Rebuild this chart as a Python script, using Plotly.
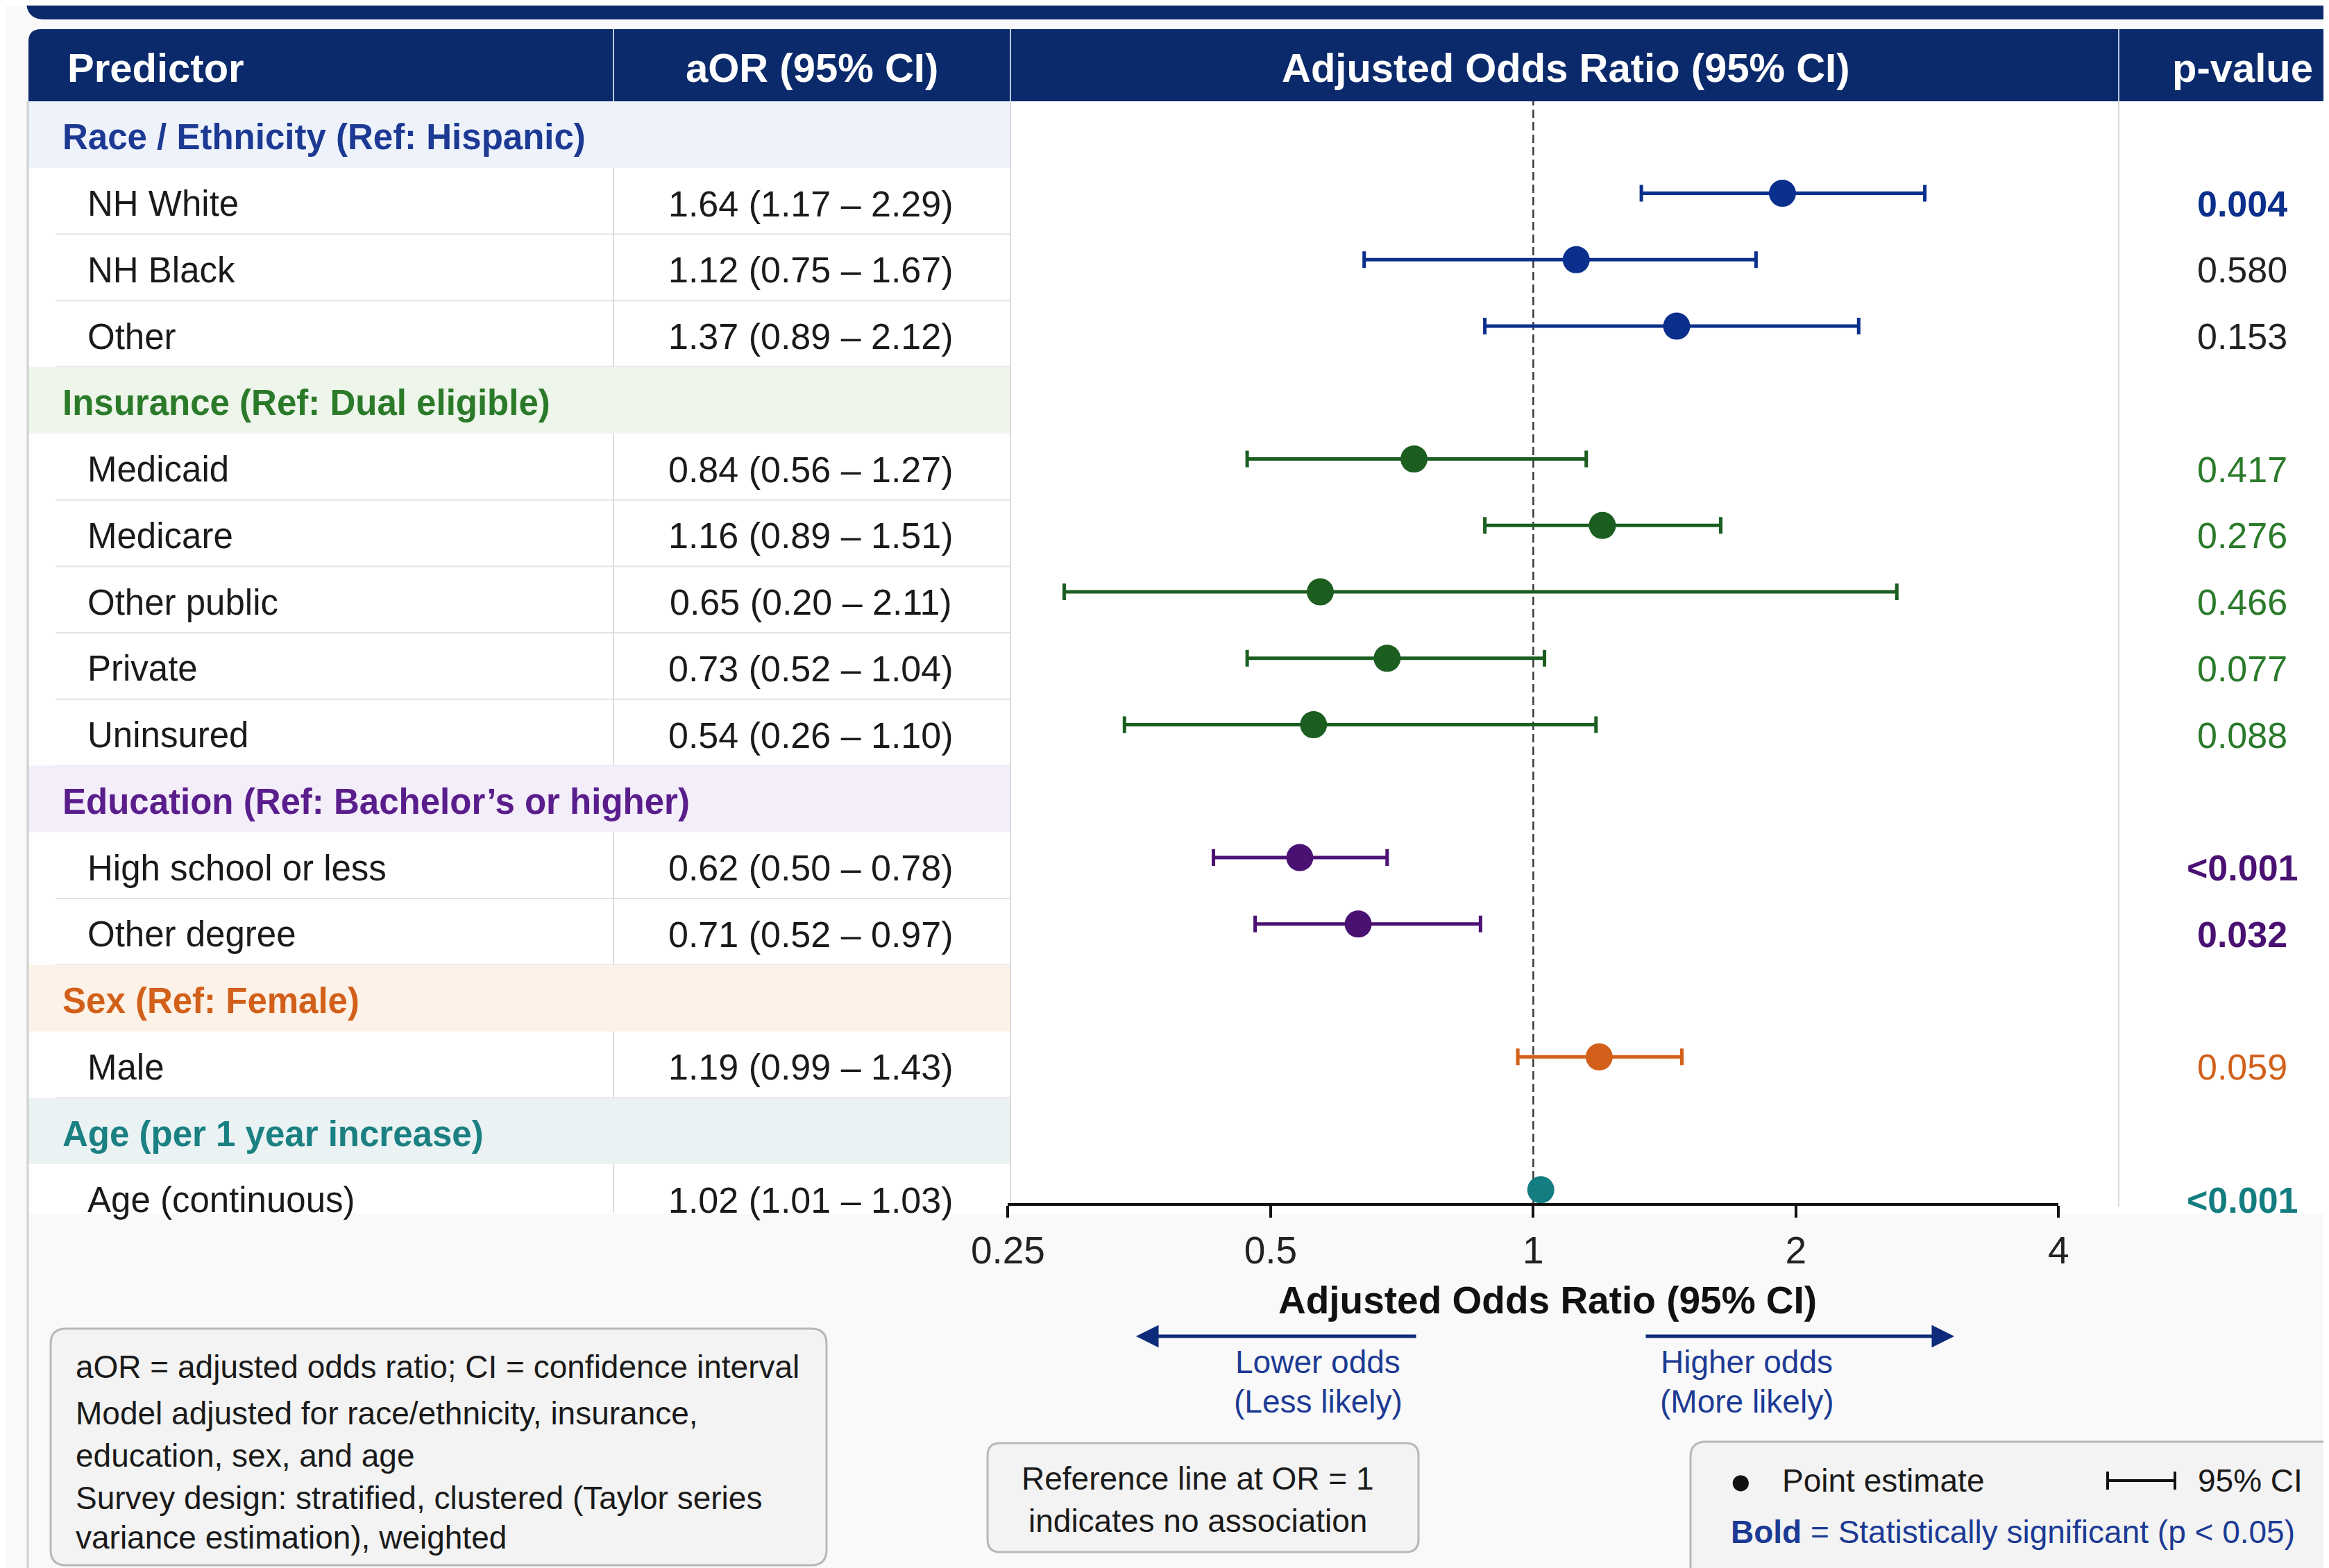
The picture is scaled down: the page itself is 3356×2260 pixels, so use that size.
import math
import plotly.graph_objects as go

# ---------------- data ----------------
group_names = ["Race / Ethnicity (Ref: Hispanic)", "Insurance (Ref: Dual eligible)",
               "Education (Ref: Bachelor’s or higher)", "Sex (Ref: Female)",
               "Age (per 1 year increase)"]

race_labels = ["NH White", "NH Black", "Other"]
insurance_labels = ["Medicaid", "Medicare", "Other public", "Private", "Uninsured"]
education_labels = ["High school or less", "Other degree"]
sex_labels = ["Male"]
age_labels = ["Age (continuous)"]

race_aor_text = ["1.64 (1.17 – 2.29)", "1.12 (0.75 – 1.67)", "1.37 (0.89 – 2.12)"]
insurance_aor_text = ["0.84 (0.56 – 1.27)", "1.16 (0.89 – 1.51)", "0.65 (0.20 – 2.11)",
                      "0.73 (0.52 – 1.04)", "0.54 (0.26 – 1.10)"]
education_aor_text = ["0.62 (0.50 – 0.78)", "0.71 (0.52 – 0.97)"]
sex_aor_text = ["1.19 (0.99 – 1.43)"]
age_aor_text = ["1.02 (1.01 – 1.03)"]

race_p = ["0.004", "0.580", "0.153"]
insurance_p = ["0.417", "0.276", "0.466", "0.077", "0.088"]
education_p = ["<0.001", "0.032"]
sex_p = ["0.059"]
age_p = ["<0.001"]

race_sig = [True, False, False]
insurance_sig = [False, False, False, False, False]
education_sig = [True, True]
sex_sig = [False]
age_sig = [True]

# point estimates and CI limits as drawn in the forest panel
race_or = [1.93, 1.12, 1.46]
race_lo = [1.33, 0.64, 0.88]
race_hi = [2.81, 1.80, 2.36]
insurance_or = [0.73, 1.20, 0.57, 0.68, 0.56]
insurance_lo = [0.47, 0.88, 0.29, 0.47, 0.34]
insurance_hi = [1.15, 1.64, 2.61, 1.03, 1.18]
education_or = [0.54, 0.63]
education_lo = [0.43, 0.48]
education_hi = [0.68, 0.87]
sex_or = [1.19]
sex_lo = [0.96]
sex_hi = [1.48]
age_or = [1.02]
age_lo = [1.01]
age_hi = [1.03]

tick_vals = [0.25, 0.5, 1, 2, 4]
tick_text = ["0.25", "0.5", "1", "2", "4"]

# ---------------- styling ----------------
W, H = 3356, 2260
OFF = 8  # page body margin offset
FONT = "Liberation Sans"
NAVY = "#0a2a6b"

group_text_col = ["#1c3a94", "#2a7a2a", "#5a1d8c", "#d2601a", "#1a8082"]
group_mark_col = ["#0b2f8c", "#1b5e20", "#4a1173", "#d2601a", "#137d80"]
group_bg = ["#eef2fb", "#eef5ea", "#f3eef9", "#fdf2e7", "#eaf2f3"]

groups = [
    (race_labels, race_aor_text, race_p, race_sig, race_or, race_lo, race_hi),
    (insurance_labels, insurance_aor_text, insurance_p, insurance_sig, insurance_or, insurance_lo, insurance_hi),
    (education_labels, education_aor_text, education_p, education_sig, education_or, education_lo, education_hi),
    (sex_labels, sex_aor_text, sex_p, sex_sig, sex_or, sex_lo, sex_hi),
    (age_labels, age_aor_text, age_p, age_sig, age_or, age_lo, age_hi),
]

TOP = 146
ROW_H = 95.75
MARK_SHIFT = 11


def X(p):
    return (p - OFF) / W


def Y(p):
    return 1 - (p - OFF) / H


def rrect_path(x0, y0, x1, y1, r, corners=(1, 1, 1, 1)):
    rx, ry = r / W, r / H
    L, R = X(x0), X(x1)
    T, B = Y(y0), Y(y1)
    tl, tr, br, bl = corners
    p = f"M {L + rx * tl},{T} L {R - rx * tr},{T} "
    if tr:
        p += f"Q {R},{T} {R},{T - ry} "
    p += f"L {R},{B + ry * br} "
    if br:
        p += f"Q {R},{B} {R - rx},{B} "
    p += f"L {L + rx * bl},{B} "
    if bl:
        p += f"Q {L},{B} {L},{B + ry} "
    p += f"L {L},{T - ry * tl} "
    if tl:
        p += f"Q {L},{T} {L + rx},{T} "
    return p + "Z"


shapes = []
annots = []


def rect(x0, y0, x1, y1, fill, line=None, lw=0, layer="below"):
    shapes.append(dict(type="rect", xref="paper", yref="paper", x0=X(x0), x1=X(x1),
                       y0=Y(y1), y1=Y(y0), fillcolor=fill,
                       line=dict(color=line or fill, width=lw), layer=layer))


def hline(x0, x1, y, color, width, layer="below"):
    shapes.append(dict(type="line", xref="paper", yref="paper", x0=X(x0), x1=X(x1),
                       y0=Y(y), y1=Y(y), line=dict(color=color, width=width), layer=layer))


def vline(x, y0, y1, color, width, layer="below"):
    shapes.append(dict(type="line", xref="paper", yref="paper", x0=X(x), x1=X(x),
                       y0=Y(y0), y1=Y(y1), line=dict(color=color, width=width), layer=layer))


def text(x, y, s, size, color="#1a1a1a", anchor="left", bold=False):
    if bold:
        s = f"<b>{s}</b>"
    annots.append(dict(xref="paper", yref="paper", x=X(x), y=Y(y), text=s, showarrow=False,
                       xanchor=anchor, yanchor="middle",
                       font=dict(family=FONT, size=size, color=color)))


def box(x0, y0, x1, y1, r):
    shapes.append(dict(type="path", xref="paper", yref="paper", path=rrect_path(x0, y0, x1, y1, r),
                       fillcolor="#f3f3f3", line=dict(color="#b8b8b8", width=3), layer="below"))


# title bar (cut off at top) and header bar
shapes.append(dict(type="path", xref="paper", yref="paper", path=rrect_path(38, -20, 3370, 28, 26, (0, 0, 0, 1)),
                   fillcolor=NAVY, line=dict(width=0), layer="below"))
rect(41, 146, 3370, 1750, "#ffffff")
shapes.append(dict(type="path", xref="paper", yref="paper", path=rrect_path(41, 42, 3370, 146, 18, (1, 0, 0, 0)),
                   fillcolor=NAVY, line=dict(width=0), layer="below"))
for xd in (884, 1456, 3053):
    vline(xd, 42, 146, "rgba(220,228,245,0.85)", 2)

text(95, 98, "Predictor", 58, "#ffffff", "left", True)
text(1170, 98, "aOR (95% CI)", 58, "#ffffff", "center", True)
text(2256, 98, "Adjusted Odds Ratio (95% CI)", 58, "#ffffff", "center", True)
text(3231, 98, "p-value", 58, "#ffffff", "center", True)

# table rows
row = 0
traces = []
for gi, (labels, aor_txt, pvals, sigs, ors, los, his) in enumerate(groups):
    top = TOP + row * ROW_H
    rect(41, top, 1456, top + ROW_H, group_bg[gi])
    text(88, top + ROW_H / 2 + 4, group_names[gi], 51, group_text_col[gi], "left", True)
    row += 1
    ys = []
    for i, lab in enumerate(labels):
        top = TOP + row * ROW_H
        cy = top + ROW_H / 2 + 4
        bottom = min(top + ROW_H, 1748)
        if row < 16:
            hline(80, 1456, top + ROW_H, "#e3e3e3", 2)
        vline(884, top, bottom, "#dcdcdc", 2)
        text(124, cy, lab, 51, "#1a1a1a", "left")
        text(1168, cy, aor_txt[i], 52, "#1a1a1a", "center")
        pcol = group_mark_col[gi] if (sigs[i] or gi != 0) else "#222222"
        if gi == 1:
            pcol = "#2a7a2a"
        text(3231, cy, pvals[i].replace("<", "&lt;"), 52, pcol, "center", sigs[i])
        ys.append(row)
        row += 1
    traces.append(go.Scatter(
        x=ors, y=ys, mode="markers",
        marker=dict(size=39, color=group_mark_col[gi], line=dict(width=0)),
        error_x=dict(type="data", symmetric=False,
                     array=[h - o for h, o in zip(his, ors)],
                     arrayminus=[o - l for o, l in zip(ors, los)],
                     color=group_mark_col[gi], thickness=5, width=12),
        showlegend=False, hoverinfo="skip"))

# column dividers and outer border
vline(1456, 146, 1740, "#dcdcdc", 2)
vline(3053, 146, 1740, "#dcdcdc", 2)
vline(40, 146, 2275, "#cfcfcf", 3)

# reference line at OR = 1
shapes.append(dict(type="line", xref="x", yref="paper", x0=1, x1=1, y0=Y(1736), y1=Y(146),
                   line=dict(color="#3a3a3a", width=2.5, dash="12px,6px"), layer="below"))

# axis title
text(2230, 1874, "Adjusted Odds Ratio (95% CI)", 55, "#111111", "center", True)

# direction arrows
ARROW = "#0d2b7a"
annots.append(dict(xref="paper", yref="paper", x=X(1637), y=Y(1926), ax=2042 - 1637, ay=0,
                   text="", showarrow=True, arrowhead=2, arrowsize=1.3, arrowwidth=5,
                   arrowcolor=ARROW, standoff=0))
annots.append(dict(xref="paper", yref="paper", x=X(2816), y=Y(1926), ax=2370 - 2816, ay=0,
                   text="", showarrow=True, arrowhead=2, arrowsize=1.3, arrowwidth=5,
                   arrowcolor=ARROW, standoff=0))
text(1899, 1963, "Lower odds", 46, "#1c3a94", "center")
text(1899, 2020, "(Less likely)", 46, "#1c3a94", "center")
text(2517, 1963, "Higher odds", 46, "#1c3a94", "center")
text(2517, 2020, "(More likely)", 46, "#1c3a94", "center")

# footnote box
box(73, 1915, 1191, 2256, 22)
foot = ["aOR = adjusted odds ratio; CI = confidence interval",
        "Model adjusted for race/ethnicity, insurance,",
        "education, sex, and age",
        "Survey design: stratified, clustered (Taylor series",
        "variance estimation), weighted"]
for s, yy in zip(foot, (1970, 2037, 2098, 2159, 2216)):
    text(107, yy, s, 46, "#1a1a1a", "left")

# reference note box
box(1423, 2080, 2044, 2237, 18)
text(1726, 2131, "Reference line at OR = 1", 46, "#1a1a1a", "center")
text(1726, 2192, "indicates no association", 46, "#1a1a1a", "center")

# legend box
box(2436, 2078, 3390, 2300, 22)
text(2508, 2134, "●", 54, "#111111", "center")
text(2566, 2134, "Point estimate", 46, "#1a1a1a", "left")
hline(3037, 3134, 2134, "#111111", 4, layer="above")
vline(3037, 2121, 2147, "#111111", 4, layer="above")
vline(3134, 2121, 2147, "#111111", 4, layer="above")
text(3165, 2134, "95% CI", 46, "#1a1a1a", "left")
text(2492, 2208, "<b>Bold</b> = Statistically significant (p &lt; 0.05)", 46, "#1c3a94", "left")

fig = go.Figure(traces)

# y value at figure top/bottom so that row r sits at page pixel TOP + (r+0.5)*ROW_H - MARK_SHIFT
r_top = (OFF - TOP + MARK_SHIFT) / ROW_H - 0.5
r_bot = (H + OFF - TOP + MARK_SHIFT) / ROW_H - 0.5

fig.update_layout(
    width=W, height=H,
    autosize=False,
    margin=dict(l=0, r=0, t=0, b=0, pad=0, autoexpand=False),
    paper_bgcolor="#f9f9f9",
    plot_bgcolor="rgba(0,0,0,0)",
    shapes=shapes,
    annotations=annots,
    font=dict(family=FONT),
    xaxis=dict(type="log", domain=[X(1452.4), X(2966.4)],
               range=[math.log10(tick_vals[0]), math.log10(tick_vals[-1])],
               anchor="free", position=Y(1736), automargin=False,
               showline=True, linecolor="#111111", linewidth=4,
               ticks="outside", ticklen=17, tickwidth=4, tickcolor="#111111",
               tickvals=tick_vals, ticktext=tick_text,
               tickfont=dict(family=FONT, size=55, color="#222222"),
               showgrid=False, zeroline=False, fixedrange=True),
    yaxis=dict(domain=[0, 1], range=[r_bot, r_top], visible=False, automargin=False,
               showgrid=False, zeroline=False, fixedrange=True),
)

fig.write_html("out.html", config=dict(displayModeBar=False))
